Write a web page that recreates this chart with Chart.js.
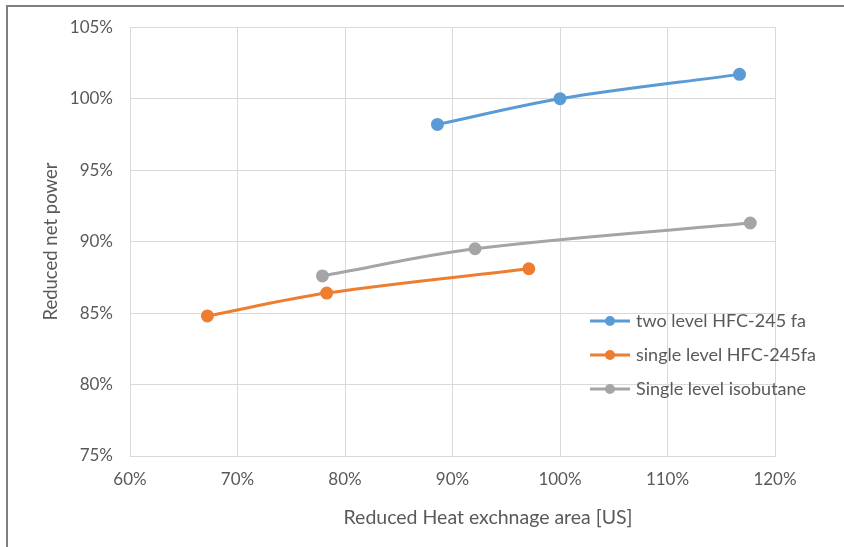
<!DOCTYPE html>
<html><head><meta charset="utf-8">
<script src="https://cdn.jsdelivr.net/npm/chart.js@4.4.0/dist/chart.umd.min.js"></script>
<style>
html,body{margin:0;padding:0;background:#fff;}
#wrap{position:absolute;left:0;top:0;width:844px;height:547px;}
#frame{position:absolute;left:6px;top:5px;width:850px;height:560px;border-left:2px solid #7f7f7f;border-top:2px solid #7f7f7f;box-sizing:border-box;pointer-events:none;}
</style></head><body>
<div id="wrap"><canvas id="c" width="844" height="547"></canvas><div id="frame"></div></div>
<script>
const seriesNames = ["two level HFC-245 fa", "single level HFC-245fa", "Single level isobutane"];
const twoLevelX = [88.6, 100.0, 116.7];
const twoLevelY = [98.2, 100.0, 101.7];
const singleHfcX = [67.2, 78.3, 97.1];
const singleHfcY = [84.8, 86.4, 88.1];
const isobutaneX = [77.9, 92.1, 117.7];
const isobutaneY = [87.6, 89.5, 91.3];
const xTicks = [60, 70, 80, 90, 100, 110, 120];
const yTicks = [75, 80, 85, 90, 95, 100, 105];
const xTitle = "Reduced Heat exchnage area [US]";
const yTitle = "Reduced net power";
const colors = ["#5b9bd5", "#ed7d31", "#a5a5a5"];

function pts(xs, ys){ return xs.map((x,i)=>({x:x, y:ys[i]})); }
const FONT = "Lato, 'Open Sans', sans-serif";

const legendPlugin = {
  id: 'customLegend',
  afterDraw(chart){
    const ctx = chart.ctx;
    const items = chart.data.datasets;
    const x0 = 590, ys = [321, 355, 389];
    ctx.save();
    items.forEach((ds,i)=>{
      const y = ys[i];
      ctx.strokeStyle = ds.borderColor; ctx.lineWidth = 3;
      ctx.beginPath(); ctx.moveTo(x0, y); ctx.lineTo(x0+40, y); ctx.stroke();
      ctx.fillStyle = ds.borderColor;
      ctx.beginPath(); ctx.arc(x0+20, y, 5, 0, Math.PI*2); ctx.fill();
      ctx.fillStyle = '#595959';
      ctx.font = "18px " + FONT;
      ctx.textBaseline = 'middle'; ctx.textAlign = 'left';
      ctx.fillText(ds.label, x0+46, y);
    });
    // x axis title (offset to the right as in the reference)
    ctx.fillStyle = '#595959';
    ctx.font = "19.5px " + FONT;
    ctx.textAlign = 'center'; ctx.textBaseline = 'middle';
    ctx.fillText(xTitle, 488, 518);
    ctx.restore();
  }
};

const datasets = [
  {label: seriesNames[0], data: pts(twoLevelX, twoLevelY)},
  {label: seriesNames[1], data: pts(singleHfcX, singleHfcY)},
  {label: seriesNames[2], data: pts(isobutaneX, isobutaneY)}
].map((d,i)=>Object.assign(d,{
  borderColor: colors[i], backgroundColor: colors[i], pointBackgroundColor: colors[i],
  pointBorderColor: colors[i], pointRadius: 5, pointHoverRadius: 5,
  borderWidth: 3, showLine: true, tension: 0.35, fill: false
}));

new Chart(document.getElementById('c'), {
  type: 'scatter',
  data: { datasets },
  options: {
    responsive: false, animation: false, devicePixelRatio: 1,
    layout: { padding: { top: 25, right: 69, left: 0, bottom: 0 } },
    plugins: { legend: { display: false }, tooltip: { enabled: false } },
    scales: {
      x: {
        type: 'linear', min: 60, max: 120,
        afterBuildTicks(s){ s.ticks = xTicks.map(v=>({value:v})); },
        afterFit(s){ s.height = 91; },
        grid: { color: '#d9d9d9', lineWidth: 1, drawTicks: false },
        border: { color: '#d9d9d9' },
        ticks: { color: '#595959', font: { size: 17, family: FONT }, padding: 13, callback: v => v + '%' },
        title: { display: false }
      },
      y: {
        type: 'linear', min: 75, max: 105,
        afterBuildTicks(s){ s.ticks = yTicks.map(v=>({value:v})); },
        afterFit(s){ s.width = 130; },
        grid: { color: '#d9d9d9', lineWidth: 1, drawTicks: false },
        border: { color: '#d9d9d9' },
        ticks: { color: '#595959', font: { size: 17, family: FONT }, padding: 17, callback: v => v + '%' },
        title: { display: true, text: yTitle, color: '#595959', font: { size: 18.5, family: FONT }, padding: { top: 40, bottom: 4 } }
      }
    }
  },
  plugins: [legendPlugin]
});
</script>
</body></html>
